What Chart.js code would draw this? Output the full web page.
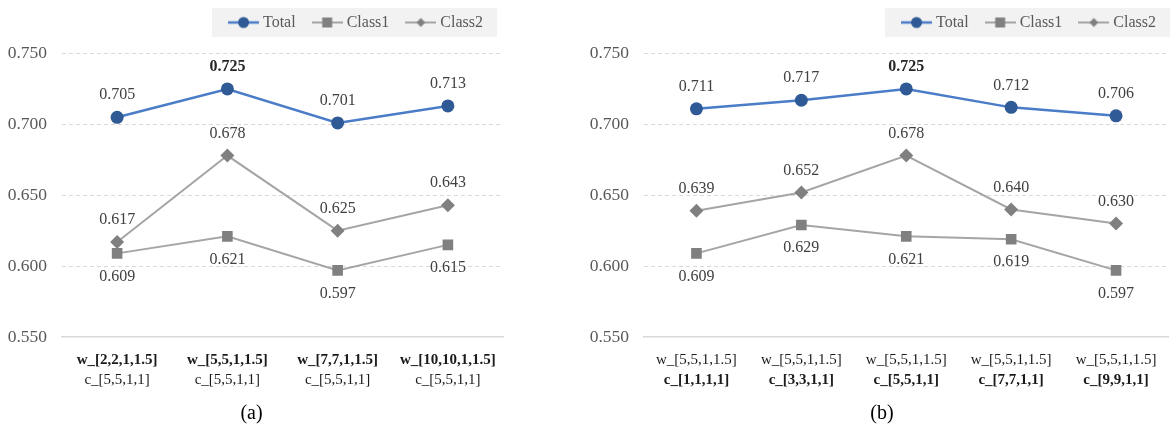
<!DOCTYPE html>
<html>
<head>
<meta charset="utf-8">
<script src="https://cdn.jsdelivr.net/npm/chart.js@4.4.1/dist/chart.umd.min.js"></script>
<style>
  html, body { margin: 0; padding: 0; background: #fff; }
  #wrap { position: relative; width: 1176px; height: 428px; overflow: hidden; }
  canvas { position: absolute; top: 0; display: block; }
  #chartA { left: 0; }
  #chartB { left: 588px; }
</style>
</head>
<body>
<div id="wrap">
  <canvas id="chartA" width="520" height="428"></canvas>
  <canvas id="chartB" width="588" height="428"></canvas>
</div>
<script>
// series names (legend)
const seriesNames = ['Total', 'Class1', 'Class2'];

// (a) varying w, fixed c
const wLabelsA = ['w_[2,2,1,1.5]', 'w_[5,5,1,1.5]', 'w_[7,7,1,1.5]', 'w_[10,10,1,1.5]'];
const cLabelsA = ['c_[5,5,1,1]', 'c_[5,5,1,1]', 'c_[5,5,1,1]', 'c_[5,5,1,1]'];
const totalA = [0.705, 0.725, 0.701, 0.713];
const class1A = [0.609, 0.621, 0.597, 0.615];
const class2A = [0.617, 0.678, 0.625, 0.643];

// (b) fixed w, varying c
const wLabelsB = ['w_[5,5,1,1.5]', 'w_[5,5,1,1.5]', 'w_[5,5,1,1.5]', 'w_[5,5,1,1.5]', 'w_[5,5,1,1.5]'];
const cLabelsB = ['c_[1,1,1,1]', 'c_[3,3,1,1]', 'c_[5,5,1,1]', 'c_[7,7,1,1]', 'c_[9,9,1,1]'];
const totalB = [0.711, 0.717, 0.725, 0.712, 0.706];
const class1B = [0.609, 0.629, 0.621, 0.619, 0.597];
const class2B = [0.639, 0.652, 0.678, 0.640, 0.630];

// y axis range / step
const yMin = 0.55, yMax = 0.75, yStep = 0.05;

const SERIF = '"Liberation Serif", "Times New Roman", serif';
const BLUE_LINE = '#4A7CC7', BLUE_MARK = '#2F5A96';
const GRAY_LINE = '#A5A5A5', GRAY_MARK = '#808080';

// small canvases used as legend symbols (line with marker in the middle)
function legendIcon(kind, lineColor, markColor) {
  const c = document.createElement('canvas');
  c.width = 31; c.height = 14;
  const g = c.getContext('2d');
  g.strokeStyle = lineColor;
  g.lineWidth = kind === 'circle' ? 2.5 : 2;
  g.beginPath(); g.moveTo(0, 7); g.lineTo(31, 7); g.stroke();
  g.fillStyle = markColor;
  g.beginPath();
  if (kind === 'circle') {
    g.arc(15.5, 7, 5.5, 0, Math.PI * 2);
  } else if (kind === 'square') {
    g.rect(10.5, 2, 10, 10);
  } else {
    g.moveTo(15.5, 2.5); g.lineTo(20, 7); g.lineTo(15.5, 11.5); g.lineTo(11, 7); g.closePath();
  }
  g.fill();
  return c;
}
const legendIcons = [
  legendIcon('circle', BLUE_LINE, BLUE_MARK),
  legendIcon('square', GRAY_LINE, GRAY_MARK),
  legendIcon('diamond', GRAY_LINE, GRAY_MARK)
];

// grey box behind the legend
const legendBack = {
  id: 'legendBack',
  beforeDraw(chart) {
    const boxes = chart.legend && chart.legend.legendHitBoxes;
    if (!boxes || !boxes.length) return;
    const x0 = Math.min(...boxes.map(b => b.left)) - 20;
    const x1 = Math.max(...boxes.map(b => b.left + b.width)) + 14;
    const ctx = chart.ctx;
    ctx.save();
    ctx.fillStyle = '#F2F2F2';
    ctx.fillRect(x0, 8, x1 - x0, 29);
    ctx.restore();
  }
};

// value labels over / under each point
const valueLabels = {
  id: 'valueLabels',
  afterDatasetsDraw(chart) {
    const ctx = chart.ctx;
    ctx.save();
    ctx.textAlign = 'center';
    ctx.textBaseline = 'middle';
    chart.data.datasets.forEach((ds, i) => {
      const meta = chart.getDatasetMeta(i);
      const best = Math.max(...ds.data);
      meta.data.forEach((pt, j) => {
        const v = ds.data[j];
        const bold = ds.boldMax && v === best;
        ctx.font = (bold ? 'bold ' : '') + '16px ' + SERIF;
        ctx.fillStyle = bold ? '#262626' : '#404040';
        ctx.fillText(v.toFixed(3), pt.x, pt.y + (ds.labelBelow ? 23 : -22));
      });
    });
    ctx.restore();
  }
};

function makeChart(id, wLabels, cLabels, total, class1, class2, boldRow, yWidth, padRight, caption) {
  // lineHeight sets where the text row sits; afterFit fixes the band height
  const rowFont = (bold, lh) => ({ family: SERIF, size: 15, weight: bold ? 'bold' : 'normal', lineHeight: lh + 'px' });
  return new Chart(document.getElementById(id), {
    type: 'line',
    data: {
      labels: wLabels,
      datasets: [
        { label: seriesNames[0], data: total, borderColor: BLUE_LINE, borderWidth: 2.5,
          pointStyle: 'circle', pointRadius: 6.5, pointBackgroundColor: BLUE_MARK, pointBorderColor: BLUE_MARK,
          pointBorderWidth: 0, boldMax: true },
        { label: seriesNames[1], data: class1, borderColor: GRAY_LINE, borderWidth: 2,
          pointStyle: 'rect', pointRadius: 7.5, pointBackgroundColor: GRAY_MARK, pointBorderColor: GRAY_MARK,
          pointBorderWidth: 0, labelBelow: true },
        { label: seriesNames[2], data: class2, borderColor: GRAY_LINE, borderWidth: 2,
          pointStyle: 'rectRot', pointRadius: 7, pointBackgroundColor: GRAY_MARK, pointBorderColor: GRAY_MARK,
          pointBorderWidth: 0 }
      ]
    },
    options: {
      responsive: false,
      animation: false,
      events: [],
      layout: { padding: { top: -5.5, right: padRight, left: 0, bottom: 0 } },
      elements: { line: { tension: 0 } },
      scales: {
        x: {
          type: 'category',
          position: 'bottom',
          weight: 0,
          offset: true,
          afterFit: (scale) => { scale.height = 33; },
          grid: { display: false, drawTicks: false },
          border: { display: true, color: '#D9D9D9', width: 1.5 },
          ticks: { color: '#1A1A1A', font: rowFont(boldRow === 'w', 46), padding: 0, maxRotation: 0, autoSkip: false }
        },
        x2: {
          type: 'category',
          position: 'bottom',
          weight: 1,
          offset: true,
          labels: cLabels,
          afterFit: (scale) => { scale.height = 20; },
          grid: { display: false, drawTicks: false },
          border: { display: false },
          ticks: { color: '#1A1A1A', font: rowFont(boldRow === 'c', 20), padding: 0, maxRotation: 0, autoSkip: false }
        },
        y: {
          min: yMin,
          max: yMax,
          afterFit: (scale) => { scale.width = yWidth; },
          grid: {
            drawTicks: false,
            lineWidth: 1,
            color: (c) => (c.index === 0 ? 'rgba(0,0,0,0)' : '#D9D9D9')
          },
          border: { display: false, dash: [4, 3] },
          ticks: {
            stepSize: yStep,
            padding: 15,
            color: '#595959',
            font: { family: SERIF, size: 17.5 },
            callback: (v) => Number(v).toFixed(3)
          }
        }
      },
      plugins: {
        tooltip: { enabled: false },
        legend: {
          position: 'top',
          align: 'end',
          labels: {
            usePointStyle: true,
            pointStyleWidth: 23,
            padding: 20,
            color: '#595959',
            font: { family: SERIF, size: 16 },
            generateLabels: () => seriesNames.map((name, i) => ({
              text: name,
              pointStyle: legendIcons[i],
              fillStyle: 'rgba(0,0,0,0)',
              strokeStyle: 'rgba(0,0,0,0)',
              lineWidth: 0,
              fontColor: '#595959',
              hidden: false,
              datasetIndex: i
            }))
          }
        },
        subtitle: {
          display: true,
          text: '',
          weight: 500,
          position: 'top',
          font: { size: 10, lineHeight: 1.2 },
          padding: { top: 0, bottom: 1 }
        },
        title: {
          display: true,
          text: caption,
          position: 'bottom',
          color: '#000',
          font: { family: SERIF, size: 20, weight: 'normal', lineHeight: 1.2 },
          padding: { top: 12, bottom: 2 }
        }
      }
    },
    plugins: [legendBack, valueLabels]
  });
}

makeChart('chartA', wLabelsA, cLabelsA, totalA, class1A, class2A, 'w', 62, 17, '(a)');
makeChart('chartB', wLabelsB, cLabelsB, totalB, class1B, class2B, 'c', 56, 0, '(b)');
</script>
</body>
</html>
